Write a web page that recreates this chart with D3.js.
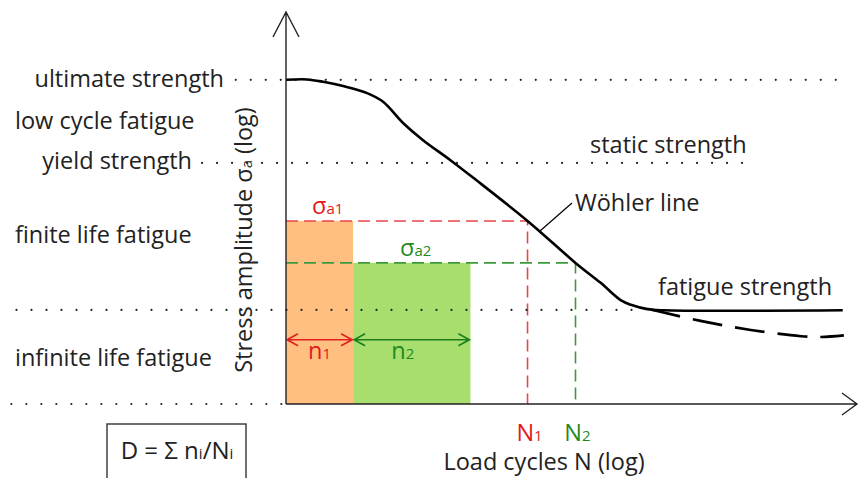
<!DOCTYPE html>
<html>
<head>
<meta charset="utf-8">
<script src="https://cdn.jsdelivr.net/npm/d3@7"></script>
<style>
  body { margin: 0; background: #fff; }
  svg text { font-family: "Open Sans", Lato, sans-serif; fill: #222; }
</style>
</head>
<body>
<div id="chart"></div>
<script>
// Wöhler (S-N) diagram, both axes log, units 0-100 on each axis

// stress levels (dotted guides)
var levelStress = [82.7, 61.5, 24.0, 0];
var levelFrom = [-8.8, -14.7, -47.2, -48.1];
var levelTo = [97.2, 81.1, 62.1, 0];

// text of the regions on the left
var regionLabels = ["ultimate strength", "low cycle fatigue", "yield strength", "finite life fatigue", "infinite life fatigue"];

// Wöhler line
var wohlerN = [0, 3.7, 6.5, 10, 14.2, 17, 20.5, 24, 28.8, 32.8, 42.3, 50.7, 55.1, 58.6, 60.4, 63.3, 66.1, 97.5];
var wohlerS = [82.7, 82.8, 82.2, 81.1, 79.3, 77.1, 71.7, 67.3, 62.2, 57.7, 46.7, 36.0, 30.9, 26.5, 25.3, 24.2, 23.9, 23.9];

// fatigue strength drop (dashed)
var dropN = [63.9, 72.6, 81.4, 90.2, 93.7, 97.7];
var dropS = [24.1, 21.2, 18.9, 17.3, 17.1, 17.5];

// two load blocks
var loadSigma = [46.7, 36.0];
var loadN = [42.3, 50.7];
var loadn = [11.75, 20.55];
var loadIdx = ["1", "2"];
var loadFill = ["#ffbf80", "#a8de6e"];
var loadLine = ["#e8474a", "#3c9a3c"];
var loadText = ["#e5191b", "#1f8a1f"];
var arrowColor = ["#e02020", "#1a7f1a"];

var width = 860, height = 478;
var fs = 23.5, sub = 15;

var svg = d3.select("#chart").append("svg")
    .attr("width", width).attr("height", height);

var x = d3.scaleLinear().domain([0, 100]).range([286, 857]);
var y = d3.scaleLinear().domain([0, 100]).range([404, 12]);

// load blocks
var start = 0;
var blocks = loadn.map(function(n, i) {
    var b = {x0: start, x1: start + n, s: loadSigma[i], N: loadN[i], i: i};
    start += n;
    return b;
});

svg.append("g").selectAll("rect")
    .data(blocks)
    .enter().append("rect")
    .attr("x", function(d) { return x(d.x0); })
    .attr("y", function(d) { return y(d.s); })
    .attr("width", function(d) { return x(d.x1) - x(d.x0); })
    .attr("height", function(d) { return y(0) - y(d.s); })
    .attr("fill", function(d) { return loadFill[d.i]; });

// dashed sigma / N guides
blocks.forEach(function(d) {
    svg.append("path")
        .attr("d", "M" + x(0) + "," + y(d.s) + "H" + x(d.N) + "V" + y(0))
        .attr("fill", "none")
        .attr("stroke", loadLine[d.i])
        .attr("stroke-width", 1.6)
        .attr("stroke-dasharray", "12,6");
});

// dotted level lines
svg.append("g").selectAll("line")
    .data(levelStress)
    .enter().append("line")
    .attr("x1", function(d, i) { return x(levelFrom[i]); })
    .attr("x2", function(d, i) { return x(levelTo[i]); })
    .attr("y1", function(d) { return y(d); })
    .attr("y2", function(d) { return y(d); })
    .attr("stroke", "#222")
    .attr("stroke-width", 2.2)
    .attr("stroke-linecap", "round")
    .attr("stroke-dasharray", "0,15");

// n arrows and labels
var sigmaDx = [26, 114];
blocks.forEach(function(d) {
    var ya = y(16.4), a = x(d.x0) + 1, b = x(d.x1) - 1;
    svg.append("path")
        .attr("d", "M" + a + "," + ya + "H" + b +
            "M" + (a + 11) + "," + (ya - 6) + "L" + a + "," + ya + "L" + (a + 11) + "," + (ya + 6) +
            "M" + (b - 11) + "," + (ya - 6) + "L" + b + "," + ya + "L" + (b - 11) + "," + (ya + 6))
        .attr("fill", "none")
        .attr("stroke", arrowColor[d.i])
        .attr("stroke-width", 1.6);

    var nt = svg.append("text")
        .attr("x", (x(d.x0) + x(d.x1)) / 2 - (d.i === 0 ? 0 : 9))
        .attr("y", ya + 19)
        .attr("text-anchor", "middle")
        .style("fill", loadText[d.i])
        .style("font-size", fs + "px");
    nt.append("tspan").text("n");
    nt.append("tspan").style("font-size", sub + "px").text(loadIdx[d.i]);

    var st = svg.append("text")
        .attr("x", x(0) + sigmaDx[d.i])
        .attr("y", y(d.s) - 7)
        .style("fill", loadText[d.i])
        .style("font-size", fs + "px");
    st.append("tspan").text("σ");
    st.append("tspan").style("font-size", sub + "px").text("a" + loadIdx[d.i]);

    var Nt = svg.append("text")
        .attr("x", x(d.N) + 2)
        .attr("y", 441)
        .attr("text-anchor", "middle")
        .style("fill", loadText[d.i])
        .style("font-size", fs + "px");
    Nt.append("tspan").text("N");
    Nt.append("tspan").style("font-size", sub + "px").text(loadIdx[d.i]);
});

// Wöhler line
var line = d3.line()
    .x(function(d) { return x(d[0]); })
    .y(function(d) { return y(d[1]); })
    .curve(d3.curveCatmullRom.alpha(0.5));

svg.append("path")
    .datum(dropN.map(function(n, i) { return [n, dropS[i]]; }))
    .attr("d", line)
    .attr("fill", "none")
    .attr("stroke", "#000")
    .attr("stroke-width", 2.6)
    .attr("stroke-dasharray", "30,13");

svg.append("path")
    .datum(wohlerN.map(function(n, i) { return [n, wohlerS[i]]; }))
    .attr("d", line)
    .attr("fill", "none")
    .attr("stroke", "#000")
    .attr("stroke-width", 2.6);

// axes with open arrow heads
svg.append("path")
    .attr("d", "M" + x(0) + "," + y(0) + "H" + x(100) +
        "M" + (x(100) - 15) + "," + (y(0) - 11) + "L" + x(100) + "," + y(0) + "L" + (x(100) - 15) + "," + (y(0) + 11))
    .attr("fill", "none").attr("stroke", "#222").attr("stroke-width", 1.4);

svg.append("path")
    .attr("d", "M" + x(0) + "," + y(0) + "V" + y(100) +
        "M" + (x(0) - 13) + "," + (y(100) + 25) + "L" + x(0) + "," + y(100) + "L" + (x(0) + 13) + "," + (y(100) + 25))
    .attr("fill", "none").attr("stroke", "#222").attr("stroke-width", 1.4);

// left labels
var labelPos = [[224, 87, "end"], [15, 129, "start"], [192, 169, "end"], [15, 243, "start"], [15, 366, "start"]];
svg.append("g").selectAll("text")
    .data(regionLabels)
    .enter().append("text")
    .attr("x", function(d, i) { return labelPos[i][0]; })
    .attr("y", function(d, i) { return labelPos[i][1]; })
    .attr("text-anchor", function(d, i) { return labelPos[i][2]; })
    .style("font-size", fs + "px")
    .text(function(d) { return d; });

// right labels
svg.append("text").attr("x", 590).attr("y", 153).style("font-size", fs + "px").text("static strength");
svg.append("text").attr("x", 658).attr("y", 295).style("font-size", fs + "px").text("fatigue strength");
svg.append("text").attr("x", 575).attr("y", 211).style("font-size", fs + "px").text("Wöhler line");
svg.append("line")
    .attr("x1", 572).attr("y1", 203).attr("x2", 540).attr("y2", 231)
    .attr("stroke", "#000").attr("stroke-width", 1.2);

// axis titles
var yt = svg.append("text")
    .attr("transform", "translate(252,240) rotate(-90)")
    .attr("text-anchor", "middle")
    .style("font-size", fs + "px");
yt.append("tspan").text("Stress amplitude σ");
yt.append("tspan").style("font-size", sub + "px").text("a");
yt.append("tspan").text(" (log)");

svg.append("text")
    .attr("x", 544).attr("y", 470)
    .attr("text-anchor", "middle")
    .style("font-size", fs + "px")
    .text("Load cycles N (log)");

// damage sum box
svg.append("rect")
    .attr("x", 107).attr("y", 424).attr("width", 139).attr("height", 70)
    .attr("fill", "none").attr("stroke", "#333").attr("stroke-width", 1.4);
var dt = svg.append("text")
    .attr("x", 177).attr("y", 459)
    .attr("text-anchor", "middle")
    .style("font-size", "24px");
dt.append("tspan").text("D = Σ n");
dt.append("tspan").style("font-size", sub + "px").text("i");
dt.append("tspan").text("/N");
dt.append("tspan").style("font-size", sub + "px").text("i");
</script>
</body>
</html>
